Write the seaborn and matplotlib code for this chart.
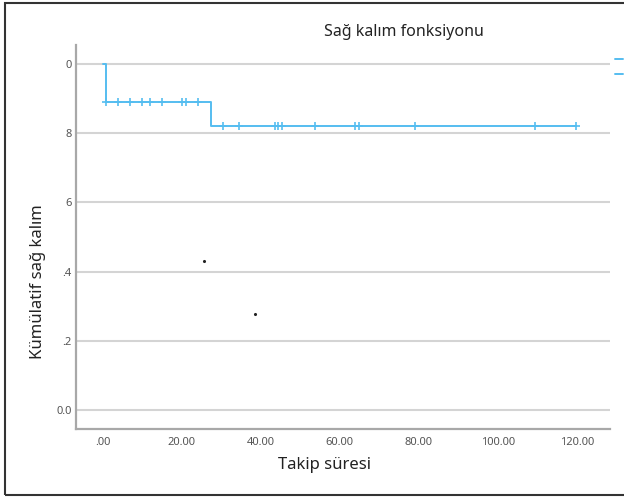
import numpy as np
import pandas as pd
import matplotlib
matplotlib.use('Agg')
import matplotlib.pyplot as plt
from matplotlib.lines import Line2D
from matplotlib.patches import Rectangle
import seaborn as sns

# Kaplan-Meier steps
step_times = [0.0, 0.8, 27.3, 119.7]
step_surv = [1.0, 0.889, 0.821, 0.821]

# censored observations (times)
censor_times = [0.8, 3.9, 6.9, 9.9, 11.9, 15.1, 20.1, 21.0, 24.2,
                30.3, 34.4, 43.5, 44.3, 45.4, 53.7, 63.8, 64.8, 79.0,
                109.5, 119.7]

# two stray dots in the plot area
dot_x = [25.6, 38.5]
dot_y = [0.43, 0.277]

yticks = [0.0, 0.2, 0.4, 0.6, 0.8, 1.0]
ytick_labels = ['0.0', '.2', '.4', '6', '8', '0']
xticks = [0, 20, 40, 60, 80, 100, 120]
xtick_labels = ['.00', '20.00', '40.00', '60.00', '80.00', '100.00', '120.00']

blue = '#55bdf0'

sns.set_style('white')
plt.rcParams['font.family'] = ['Noto Sans', 'DejaVu Sans']

steps = pd.DataFrame({'t': step_times, 's': step_surv})
idx = np.searchsorted(step_times, censor_times, side='right') - 1
cens = pd.DataFrame({'t': censor_times, 's': np.array(step_surv)[idx]})

fig = plt.figure(figsize=(6.24, 4.99), dpi=100)
ax = fig.add_axes([76 / 624, 1 - 429 / 499, (610 - 76) / 624, (429 - 45) / 499])

sns.lineplot(data=steps, x='t', y='s', drawstyle='steps-post', color=blue,
             linewidth=1.4, ax=ax)
sns.scatterplot(data=cens, x='t', y='s', marker='+', s=28, color=blue,
                linewidth=1.2, ax=ax, zorder=3)
ax.scatter(dot_x, dot_y, s=1.5, color='#222222', zorder=3)

ax.set_xlim(-6.8, 128.4)
ax.set_ylim(-0.055, 1.055)
ax.set_yticks(yticks)
ax.set_yticklabels(ytick_labels)
ax.set_xticks(xticks)
ax.set_xticklabels(xtick_labels)
ax.yaxis.grid(True, color='#d4d4d4', linewidth=1.5)
ax.set_axisbelow(True)
ax.tick_params(length=0, labelsize=8, labelcolor='#555555', pad=3)
for lab in ax.get_xticklabels() + ax.get_yticklabels():
    lab.set_fontweight('bold')
ax.tick_params(axis='x', pad=6)

for side in ['top', 'right']:
    ax.spines[side].set_visible(False)
for side in ['left', 'bottom']:
    ax.spines[side].set_color('#a8a8a8')
    ax.spines[side].set_linewidth(1.6)

ax.set_xlabel('Takip süresi', fontsize=12, color='#222222')
ax.set_ylabel('Kümülatif sağ kalım', fontsize=12, color='#222222')
ax.xaxis.set_label_coords((325 - 76) / 534, (429 - 457) / 384)
ax.yaxis.set_label_coords((46 - 76) / 534, (429 - 282) / 384)
fig.text(404 / 624, 1 - 32 / 499, 'Sağ kalım fonksiyonu', ha='center',
         va='center', fontsize=11.5, color='#222222')

# legend, only its keys are visible at the right edge
handles = [Line2D([0], [0], color=blue, linewidth=1.4),
           Line2D([0], [0], color=blue, linewidth=1.4)]
fig.legend(handles, ['', ''], loc='upper left',
           bbox_to_anchor=(606 / 624, 1 - 46 / 499), frameon=False,
           handlelength=0.7, fontsize=8, labelspacing=0.4, borderpad=0.3)

# outer frame
fig.patches.append(Rectangle((5 / 624, 4 / 499), 1.0, 1 - 7 / 499,
                             transform=fig.transFigure, fill=False,
                             edgecolor='#333333', linewidth=1.5))

fig.savefig('out.png', dpi=100)
